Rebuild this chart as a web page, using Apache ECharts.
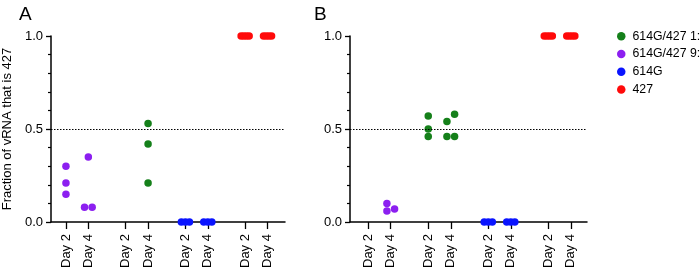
<!DOCTYPE html>
<html>
<head>
<meta charset="utf-8">
<script src="https://cdn.jsdelivr.net/npm/echarts@6/dist/echarts.min.js"></script>
<style>
html,body{margin:0;padding:0;background:#fff;}
#c{width:700px;height:271px;}
</style>
</head>
<body>
<div id="c"></div>
<script>
// Category slots along the x axis (pairs of Day 2 / Day 4 with gaps between groups)
var catPos = [0, 1, 2.667, 3.667, 5.333, 6.333, 8, 9];
var dayLabels = ['Day 2', 'Day 4', 'Day 2', 'Day 4', 'Day 2', 'Day 4', 'Day 2', 'Day 4'];
var yTickLabels = ['0.0', '0.5', '1.0'];
var seriesNames = ['614G/427 1:1', '614G/427 9:1', '614G', '427'];
var seriesColors = ['#15801a', '#8c1ff0', '#0a14ff', '#ff0a0a'];

// Panel A values (per category slot index)
var A_mix11 = [{cat: 3, values: [0.53, 0.42, 0.21], jitter: [0, 0, 0]}];
var A_mix91 = [
  {cat: 0, values: [0.30, 0.21, 0.15], jitter: [0, 0, 0]},
  {cat: 1, values: [0.35, 0.08, 0.08], jitter: [0, -0.17, 0.17]}
];
var A_614G = [
  {cat: 4, values: [0, 0, 0], jitter: [-0.18, 0, 0.18]},
  {cat: 5, values: [0, 0, 0], jitter: [-0.18, 0, 0.18]}
];
var A_427 = [
  {cat: 6, values: [1, 1, 1, 1], jitter: [-0.18, -0.06, 0.06, 0.18]},
  {cat: 7, values: [1, 1, 1, 1], jitter: [-0.18, -0.06, 0.06, 0.18]}
];

// Panel B values
var B_mix11 = [
  {cat: 2, values: [0.57, 0.50, 0.46], jitter: [0, 0, 0]},
  {cat: 3, values: [0.54, 0.58, 0.46, 0.46], jitter: [-0.17, 0.17, -0.17, 0.17]}
];
var B_mix91 = [
  {cat: 1, values: [0.10, 0.06, 0.07], jitter: [-0.17, -0.17, 0.17]}
];
var B_614G = [
  {cat: 4, values: [0, 0, 0], jitter: [-0.18, 0, 0.18]},
  {cat: 5, values: [0, 0, 0], jitter: [-0.18, 0, 0.18]}
];
var B_427 = [
  {cat: 6, values: [1, 1, 1, 1], jitter: [-0.18, -0.06, 0.06, 0.18]},
  {cat: 7, values: [1, 1, 1, 1], jitter: [-0.18, -0.06, 0.06, 0.18]}
];

function toPoints(groups) {
  var out = [];
  groups.forEach(function (g) {
    g.values.forEach(function (v, i) {
      out.push([catPos[g.cat] + g.jitter[i], v]);
    });
  });
  return out;
}

var FONT = 'Liberation Sans, Arial, sans-serif';

function xAxisDef(idx, min, max) {
  return {
    type: 'value', gridIndex: idx, min: min, max: max,
    splitLine: {show: false},
    axisLine: {show: true, onZero: false, lineStyle: {color: '#000', width: 1.5}},
    axisTick: {show: true, customValues: catPos, length: 7, lineStyle: {color: '#000', width: 1.3}},
    axisLabel: {
      show: true, customValues: catPos, rotate: 90, margin: 12,
      color: '#000', fontSize: 13, fontFamily: FONT,
      formatter: function (v) {
        for (var i = 0; i < catPos.length; i++) {
          if (Math.abs(catPos[i] - v) < 1e-6) return dayLabels[i];
        }
        return '';
      }
    }
  };
}

function yAxisDef(idx, withName) {
  var d = {
    type: 'value', gridIndex: idx, min: 0, max: 1, interval: 0.5,
    splitLine: {show: false},
    axisLine: {show: true, onZero: false, lineStyle: {color: '#000', width: 1.5}},
    axisTick: {show: true, length: 5, lineStyle: {color: '#000', width: 1.3}},
    minorTick: {show: true, splitNumber: 5, length: 3, lineStyle: {color: '#000', width: 1.2}},
    axisLabel: {
      color: '#000', fontSize: 13, fontFamily: FONT, margin: 8,
      formatter: function (v) {
        return yTickLabels[Math.round(v * 2)];
      }
    }
  };
  if (withName) {
    d.name = 'Fraction of vRNA that is 427';
    d.nameLocation = 'middle';
    d.nameGap = 37;
    d.nameTextStyle = {color: '#000', fontSize: 13, fontFamily: FONT};
  }
  return d;
}

function scatter(name, color, groups, xi, withLine) {
  var s = {
    name: name, type: 'scatter', xAxisIndex: xi, yAxisIndex: xi,
    data: toPoints(groups), symbol: 'circle', symbolSize: 7.5,
    itemStyle: {color: color, opacity: 1}, clip: false, z: 3
  };
  if (withLine) {
    s.markLine = {
      silent: true, symbol: ['none', 'none'],
      label: {show: false},
      lineStyle: {color: '#000', type: [1.5, 1.5], width: 1},
      data: [{yAxis: 0.5}]
    };
  }
  return s;
}

var chart = echarts.init(document.getElementById('c'), null, {renderer: 'canvas'});
chart.setOption({
  backgroundColor: '#fff',
  animation: false,
  title: [
    {text: 'A', left: 14, top: 0, textStyle: {fontSize: 19, fontWeight: 'normal', color: '#000', fontFamily: FONT}},
    {text: 'B', left: 309, top: 0, textStyle: {fontSize: 19, fontWeight: 'normal', color: '#000', fontFamily: FONT}}
  ],
  grid: [
    {left: 50, width: 235, top: 36, height: 187.3, containLabel: false},
    {left: 350, width: 237, top: 36, height: 187.3, containLabel: false}
  ],
  xAxis: [xAxisDef(0, -0.667, 9.78), xAxisDef(1, -0.81, 9.72)],
  yAxis: [yAxisDef(0, true), yAxisDef(1, false)],
  legend: {
    orient: 'vertical', left: 617, top: 30, padding: 0,
    data: seriesNames, icon: 'circle', itemWidth: 8.5, itemHeight: 8.5, itemGap: 5,
    textStyle: {color: '#000', fontSize: 12.3, lineHeight: 12.7, fontFamily: FONT, padding: [0, 0, 0, 2]},
    selectedMode: false
  },
  series: [
    scatter(seriesNames[0], seriesColors[0], A_mix11, 0, true),
    scatter(seriesNames[1], seriesColors[1], A_mix91, 0, false),
    scatter(seriesNames[2], seriesColors[2], A_614G, 0, false),
    scatter(seriesNames[3], seriesColors[3], A_427, 0, false),
    scatter(seriesNames[0], seriesColors[0], B_mix11, 1, true),
    scatter(seriesNames[1], seriesColors[1], B_mix91, 1, false),
    scatter(seriesNames[2], seriesColors[2], B_614G, 1, false),
    scatter(seriesNames[3], seriesColors[3], B_427, 1, false)
  ]
});
</script>
</body>
</html>
